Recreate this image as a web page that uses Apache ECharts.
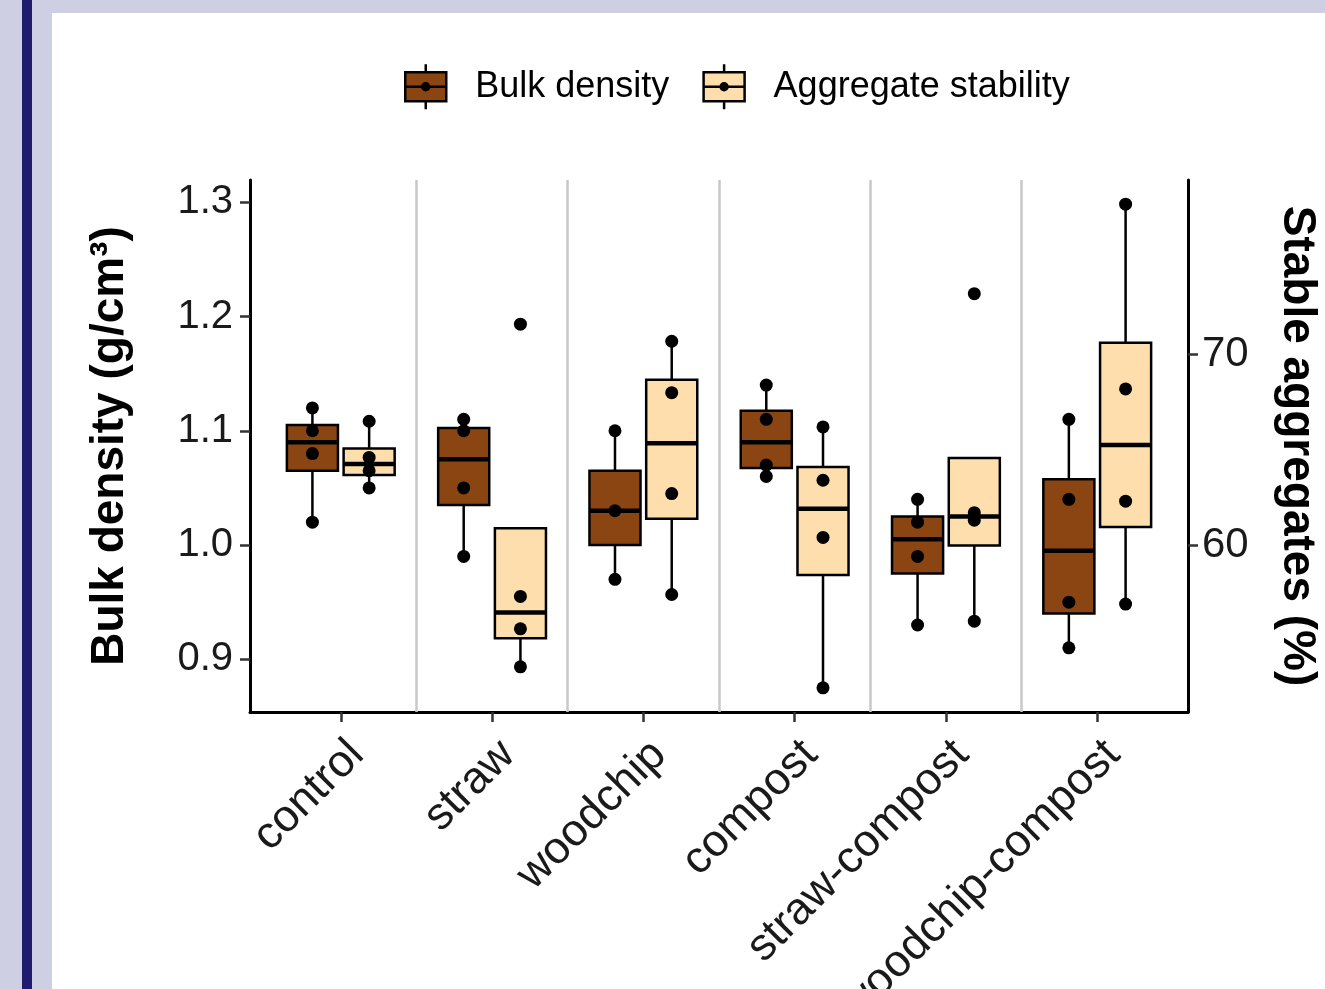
<!DOCTYPE html>
<html lang="en">
<head>
<meta charset="UTF-8">
<title>Bulk density and aggregate stability</title>
<script src="https://cdn.jsdelivr.net/npm/echarts@6/dist/echarts.min.js"></script>
<style>
    * { margin: 0; padding: 0; }
    html, body { width: 100%; height: 100%; background: #cfcfe3; overflow: hidden; }
    #stripe { position: absolute; left: 22px; top: 0; width: 10px; height: 100%; background: #1f1b6e; }
    #chart { position: absolute; left: 52px; top: 13px; width: 1273px; height: 976px; background: #fff; }
</style>
</head>
<body>
<div id="stripe"></div>
<div id="chart"></div>
<script>
    // raw replicate values per treatment
    const categories = ['control', 'straw', 'woodchip', 'compost', 'straw-compost', 'woodchip-compost'];
    const bulkDensity = [
        [1.12, 1.10, 1.08, 1.02],
        [1.11, 1.10, 1.05, 0.99],
        [1.10, 1.03, 0.97],
        [1.14, 1.11, 1.07, 1.06],
        [1.04, 1.02, 0.99, 0.93],
        [1.11, 1.04, 0.95, 0.91]
    ];
    const aggStability = [
        [66.5, 64.6, 63.9, 63.0],
        [71.6, 57.3, 55.6, 53.6],
        [70.7, 68.0, 62.7, 57.4],
        [66.2, 63.4, 60.4, 52.5],
        [73.2, 61.7, 61.3, 56.0],
        [77.9, 68.2, 62.3, 56.9]
    ];
    const bdTicks = [0.9, 1.0, 1.1, 1.2, 1.3];
    const asTicks = [60, 70];
    const secScale = 60; // stable aggregates = bulk density axis * 60

    const FONT = "'Liberation Sans', Arial, sans-serif";
    const BROWN = '#8B4513';
    const CREAM = '#FFDEAD';
    const dodge = 0.1875;
    const boxW = 0.3375;

    function quantile(s, p) {
        const h = (s.length - 1) * p;
        const lo = Math.floor(h);
        if (lo + 1 >= s.length) return s[lo];
        return s[lo] + (h - lo) * (s[lo + 1] - s[lo]);
    }

    function boxStats(vals) {
        const s = vals.slice().sort((a, b) => a - b);
        const q1 = quantile(s, 0.25), med = quantile(s, 0.5), q3 = quantile(s, 0.75);
        const iqr = q3 - q1;
        const lo = Math.min(...s.filter(v => v >= q1 - 1.5 * iqr));
        const hi = Math.max(...s.filter(v => v <= q3 + 1.5 * iqr));
        return [Math.min(lo, q1), q1, med, q3, Math.max(hi, q3)];
    }

    const bdBoxes = bulkDensity.map((v, i) => [i + 1 - dodge, ...boxStats(v)]);
    const asBoxes = aggStability.map((v, i) => [i + 1 + dodge, ...boxStats(v)]);
    const bdPoints = [];
    const asPoints = [];
    bulkDensity.forEach((v, i) => v.forEach(y => bdPoints.push([i + 1 - dodge, y])));
    aggStability.forEach((v, i) => v.forEach(y => asPoints.push([i + 1 + dodge, y])));

    // shared range like ggplot: all data on the left scale + 5% padding
    const allLeft = bulkDensity.flat().concat(aggStability.flat().map(v => v / secScale));
    const dMin = Math.min(...allLeft), dMax = Math.max(...allLeft);
    const pad = (dMax - dMin) * 0.05;
    const yMin = dMin - pad, yMax = dMax + pad;

    function renderBox(params, api) {
        const x = api.value(0);
        const p = [1, 2, 3, 4, 5].map(k => api.coord([x, api.value(k)]));
        const cx = p[0][0];
        const half = api.size([boxW, 0])[0] / 2;
        const ls = { stroke: '#000', lineWidth: 2.5 };
        return {
            type: 'group',
            children: [
                { type: 'line', shape: { x1: cx, y1: p[0][1], x2: cx, y2: p[1][1] }, style: ls },
                { type: 'line', shape: { x1: cx, y1: p[3][1], x2: cx, y2: p[4][1] }, style: ls },
                {
                    type: 'rect',
                    shape: { x: cx - half, y: p[3][1], width: half * 2, height: p[1][1] - p[3][1] },
                    style: { fill: api.visual('color'), stroke: '#000', lineWidth: 2.5 }
                },
                { type: 'line', shape: { x1: cx - half, y1: p[2][1], x2: cx + half, y2: p[2][1] }, style: { stroke: '#000', lineWidth: 4.5 } }
            ]
        };
    }

    // legend key: box, whiskers, median and a dot (concentric rings so the stroke fills it)
    const glyph = 'path://M0,8L41,8L41,37L0,37Z M20.5,0L20.5,8 M20.5,37L20.5,45 M0,22.5L41,22.5 ' +
        'M24,22.5A3.5,3.5 0 1,1 17,22.5A3.5,3.5 0 1,1 24,22.5Z ' +
        'M22,22.5A1.5,1.5 0 1,1 19,22.5A1.5,1.5 0 1,1 22,22.5Z';
    const separators = categories.slice(1).map((c, i) => ({ xAxis: i + 1.5 }));
    const catPos = categories.map((c, i) => i + 1);

    const axisLineStyle = { color: '#000', width: 3 };
    const tickStyle = { color: '#333', width: 2.5 };
    const labelStyle = { fontSize: 40, color: '#1a1a1a', fontFamily: FONT };

    const myChart = echarts.init(document.getElementById('chart'));
    const option = {
        animation: false,
        textStyle: { fontFamily: FONT },
        legend: {
            left: 352,
            top: 50,
            padding: 0,
            itemWidth: 41,
            itemHeight: 45,
            itemGap: 33,
            textStyle: { fontSize: 36, color: '#000', fontFamily: FONT, padding: [0, 0, 0, 24] },
            data: [
                { name: 'Bulk density', icon: glyph, itemStyle: { color: BROWN, borderColor: '#000', borderWidth: 2.5 } },
                { name: 'Aggregate stability', icon: glyph, itemStyle: { color: CREAM, borderColor: '#000', borderWidth: 2.5 } }
            ]
        },
        grid: { left: 198, right: 137, top: 167, bottom: 277, outerBoundsMode: 'none' },
        xAxis: {
            type: 'value',
            min: 0.4,
            max: categories.length + 0.6,
            axisLine: { onZero: false, lineStyle: axisLineStyle },
            axisTick: { customValues: catPos, length: 10, lineStyle: tickStyle },
            axisLabel: Object.assign({}, labelStyle, {
                customValues: catPos,
                formatter: v => categories[Math.round(v) - 1],
                rotate: 45,
                fontSize: 45,
                margin: 20,
                verticalAlign: 'top'
            }),
            splitLine: { show: false }
        },
        yAxis: [
            {
                type: 'value',
                min: yMin,
                max: yMax,
                axisLine: { show: true, onZero: false, lineStyle: axisLineStyle },
                axisTick: { show: true, customValues: bdTicks, length: 10, lineStyle: tickStyle },
                axisLabel: Object.assign({}, labelStyle, { customValues: bdTicks, formatter: v => v.toFixed(1), margin: 17 }),
                splitLine: { show: false },
                name: 'Bulk density (g/cm³)',
                nameLocation: 'middle',
                nameRotate: 90,
                nameGap: 117,
                nameTextStyle: { fontSize: 46, fontWeight: 'bold', color: '#000', fontFamily: FONT }
            },
            {
                type: 'value',
                position: 'right',
                min: yMin * secScale,
                max: yMax * secScale,
                axisLine: { show: true, onZero: false, lineStyle: axisLineStyle },
                axisTick: { show: true, customValues: asTicks, length: 10, lineStyle: tickStyle },
                axisLabel: Object.assign({}, labelStyle, { customValues: asTicks, formatter: v => String(v), margin: 14, fontSize: 42 }),
                splitLine: { show: false },
                name: 'Stable aggregates (%)',
                nameLocation: 'middle',
                nameRotate: -90,
                nameGap: 86,
                nameTextStyle: { fontSize: 46, fontWeight: 'bold', color: '#000', fontFamily: FONT }
            }
        ],
        series: [
            {
                name: 'Bulk density',
                type: 'custom',
                renderItem: renderBox,
                itemStyle: { color: BROWN },
                encode: { x: 0, y: [1, 2, 3, 4, 5] },
                data: bdBoxes,
                z: 2
            },
            {
                name: 'Aggregate stability',
                type: 'custom',
                yAxisIndex: 1,
                renderItem: renderBox,
                itemStyle: { color: CREAM },
                encode: { x: 0, y: [1, 2, 3, 4, 5] },
                data: asBoxes,
                z: 2
            },
            {
                name: 'bd points',
                type: 'scatter',
                symbolSize: 13,
                itemStyle: { color: '#000', opacity: 1 },
                data: bdPoints,
                z: 3,
                markLine: {
                    silent: true,
                    symbol: 'none',
                    label: { show: false },
                    lineStyle: { color: '#c8c8c8', width: 2.5, type: 'solid' },
                    data: separators
                }
            },
            {
                name: 'as points',
                type: 'scatter',
                yAxisIndex: 1,
                symbolSize: 13,
                itemStyle: { color: '#000', opacity: 1 },
                data: asPoints,
                z: 3
            }
        ]
    };
    myChart.setOption(option);
</script>
</body>
</html>
